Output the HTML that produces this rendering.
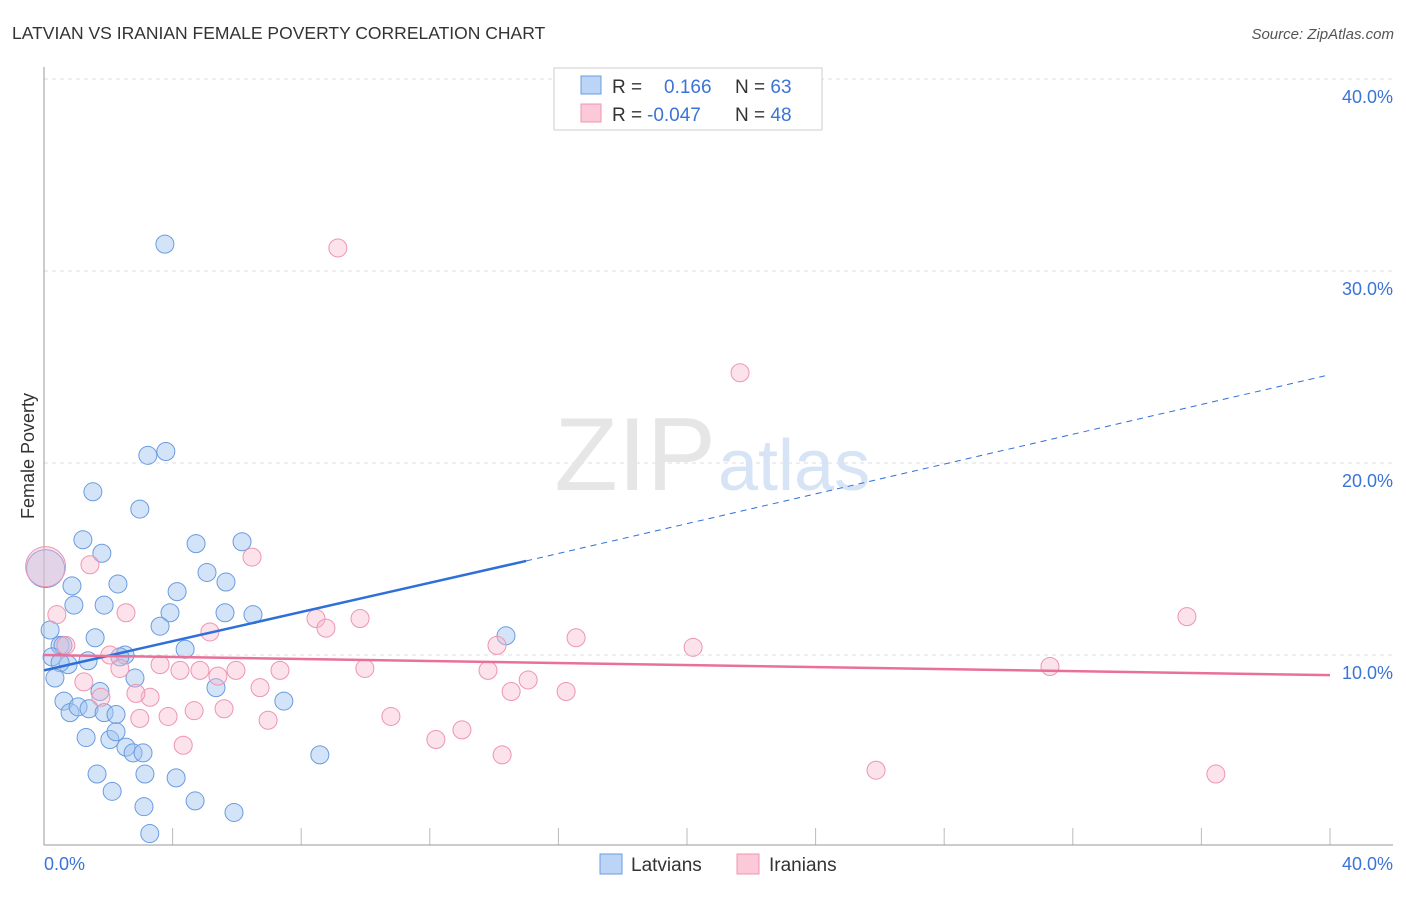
<!DOCTYPE html>
<html><head><meta charset="utf-8"><style>
body{margin:0;background:#fff;font-family:"Liberation Sans",sans-serif}
svg text{font-family:"Liberation Sans",sans-serif}
</style></head><body>
<svg width="1406" height="892" xmlns="http://www.w3.org/2000/svg">
<text x="12" y="39" font-size="17.5" fill="#333">LATVIAN VS IRANIAN FEMALE POVERTY CORRELATION CHART</text>
<text x="1394" y="39" font-size="15" fill="#555" font-style="italic" text-anchor="end">Source: ZipAtlas.com</text>
<g id="grid"></g>
<text x="716" y="490" font-size="104" fill="#e6e6e6" text-anchor="end" font-family="Liberation Serif">ZIP</text>
<text x="718" y="490" font-size="72" fill="#d6e4f5">atlas</text>
<line x1="44" y1="67" x2="44" y2="845" stroke="#999"/>
<line x1="44" y1="845" x2="1393" y2="845" stroke="#999"/>
<text x="34" y="456" font-size="18" fill="#333" transform="rotate(-90 34 456)" text-anchor="middle">Female Poverty</text>
<text x="44" y="870" font-size="18" fill="#3b73d8">0.0%</text>
<text x="1393" y="870" font-size="18" fill="#3b73d8" text-anchor="end">40.0%</text>
<g id="marks"></g>
<rect x="554" y="68" width="268" height="62" fill="#fff" stroke="#ccc"/>
<rect x="581" y="76" width="20" height="18" fill="#bcd4f6" stroke="#6a9be0"/>
<rect x="581" y="104" width="20" height="18" fill="#fcc9d8" stroke="#ee95b0"/>
<text x="612" y="93" font-size="19" fill="#333">R = <tspan fill="#3b73d8" x="664">0.166</tspan><tspan x="735" fill="#333">N = </tspan><tspan fill="#3b73d8">63</tspan></text>
<text x="612" y="121" font-size="19" fill="#333">R = <tspan fill="#3b73d8" x="647">-0.047</tspan><tspan x="735" fill="#333">N = </tspan><tspan fill="#3b73d8">48</tspan></text>
<rect x="600" y="854" width="22" height="20" fill="#bcd4f6" stroke="#6a9be0"/>
<text x="631" y="871" font-size="19" fill="#333">Latvians</text>
<rect x="737" y="854" width="22" height="20" fill="#fcc9d8" stroke="#ee95b0"/>
<text x="769" y="871" font-size="19" fill="#333">Iranians</text>
</svg>
<script>
const yTicks=[10,20,30,40];
const xTickVals=[0,4,8,12,16,20,24,28,32,36,40];
const latX=[3.76,3.79,3.23,1.52,2.98,1.21,4.73,6.16,1.80,5.07,2.3,0.87,5.66,4.14,1.87,0.93,3.92,6.5,5.63,3.61,0.19,1.59,14.37,0.50,0.59,4.39,2.52,0.25,0.75,1.37,2.36,0.5,0.34,2.83,5.35,1.74,0.62,7.46,0.81,1.06,1.40,1.87,2.24,2.05,1.31,2.24,2.55,2.77,3.08,8.58,1.65,3.14,4.11,2.12,4.7,3.11,5.91,3.29,0.05];
const latY=[31.4,20.6,20.4,18.5,17.6,16.0,15.8,15.9,15.3,14.3,13.7,13.6,13.8,13.3,12.6,12.6,12.2,12.1,12.2,11.5,11.3,10.9,11.0,10.5,10.5,10.3,10.0,9.9,9.5,9.7,9.9,9.6,8.8,8.8,8.3,8.1,7.6,7.6,7.0,7.3,7.2,7.0,6.9,5.6,5.7,6.0,5.2,4.9,4.9,4.8,3.8,3.8,3.6,2.9,2.4,2.1,1.8,0.7,14.5];
const iraX=[9.14,21.65,6.47,1.43,0.4,2.55,8.46,9.83,35.55,5.16,8.77,16.55,0.68,14.09,20.19,2.05,2.36,3.61,4.23,4.85,5.41,5.97,7.34,9.98,13.81,31.29,1.24,3.3,2.86,6.72,15.06,14.53,16.24,1.77,2.98,3.86,4.67,5.6,6.97,10.79,12.19,13.0,4.33,14.25,25.88,36.45,0.05];
const iraY=[31.2,24.7,15.1,14.7,12.1,12.2,11.9,11.9,12.0,11.2,11.4,10.9,10.5,10.5,10.4,10.0,9.3,9.5,9.2,9.2,8.9,9.2,9.2,9.3,9.2,9.4,8.6,7.8,8.0,8.3,8.7,8.1,8.1,7.8,6.7,6.8,7.1,7.2,6.6,6.8,5.6,6.1,5.3,4.8,4.0,3.8,14.6];
const latLine=[[0,9.2],[15.0,14.9]], latDash=[[15.0,14.9],[40,24.6]];
const iraLine=[[0,10.0],[40,8.95]];
const X=v=>44+v*32.15, Y=v=>847-v*19.2;
const NS="http://www.w3.org/2000/svg";
function mk(t,a,p){const e=document.createElementNS(NS,t);for(const k in a)e.setAttribute(k,a[k]);p.appendChild(e);return e;}
const grid=document.getElementById('grid'), marks=document.getElementById('marks');
yTicks.forEach(t=>{
 const l=mk('line',{x1:44,x2:1393,y1:Y(t),y2:Y(t),stroke:'#ddd','stroke-dasharray':'4,4'},grid);
 
 
 const tx=mk('text',{x:1393,y:Y(t)+24,'font-size':18,fill:'#3b73d8','text-anchor':'end'},grid);
 tx.textContent=t.toFixed(1)+'%';
 
 
});
xTickVals.forEach(t=>{
 const l=mk('line',{x1:X(t),x2:X(t),y1:828,y2:845,stroke:'#bbb'},grid);
 
 
});
latX.forEach((x,i)=>{
 const big=i===latX.length-1;
 const c=mk('circle',{cx:X(x),cy:Y(latY[i]),r:big?19:9,fill:'rgba(160,195,240,0.45)',stroke:'#6a9be0','stroke-width':1},marks);
 
 
});
iraX.forEach((x,i)=>{
 const big=i===iraX.length-1;
 const c=mk('circle',{cx:X(x),cy:Y(iraY[i]),r:big?20:9,fill:'rgba(248,185,205,0.4)',stroke:'#ee95b0','stroke-width':1},marks);
 
 
});
let l1=mk('line',{x1:X(latLine[0][0]),y1:Y(latLine[0][1]),x2:X(latLine[1][0]),y2:Y(latLine[1][1]),stroke:'#2f6fd8','stroke-width':2.5},marks);


let l2=mk('line',{x1:X(latDash[0][0]),y1:Y(latDash[0][1]),x2:X(latDash[1][0]),y2:Y(latDash[1][1]),stroke:'#2f6fd8','stroke-width':1,'stroke-dasharray':'6,5'},marks);


let l3=mk('line',{x1:X(iraLine[0][0]),y1:Y(iraLine[0][1]),x2:X(iraLine[1][0]),y2:Y(iraLine[1][1]),stroke:'#e8709a','stroke-width':2.5},marks);


</script>
</body></html>
